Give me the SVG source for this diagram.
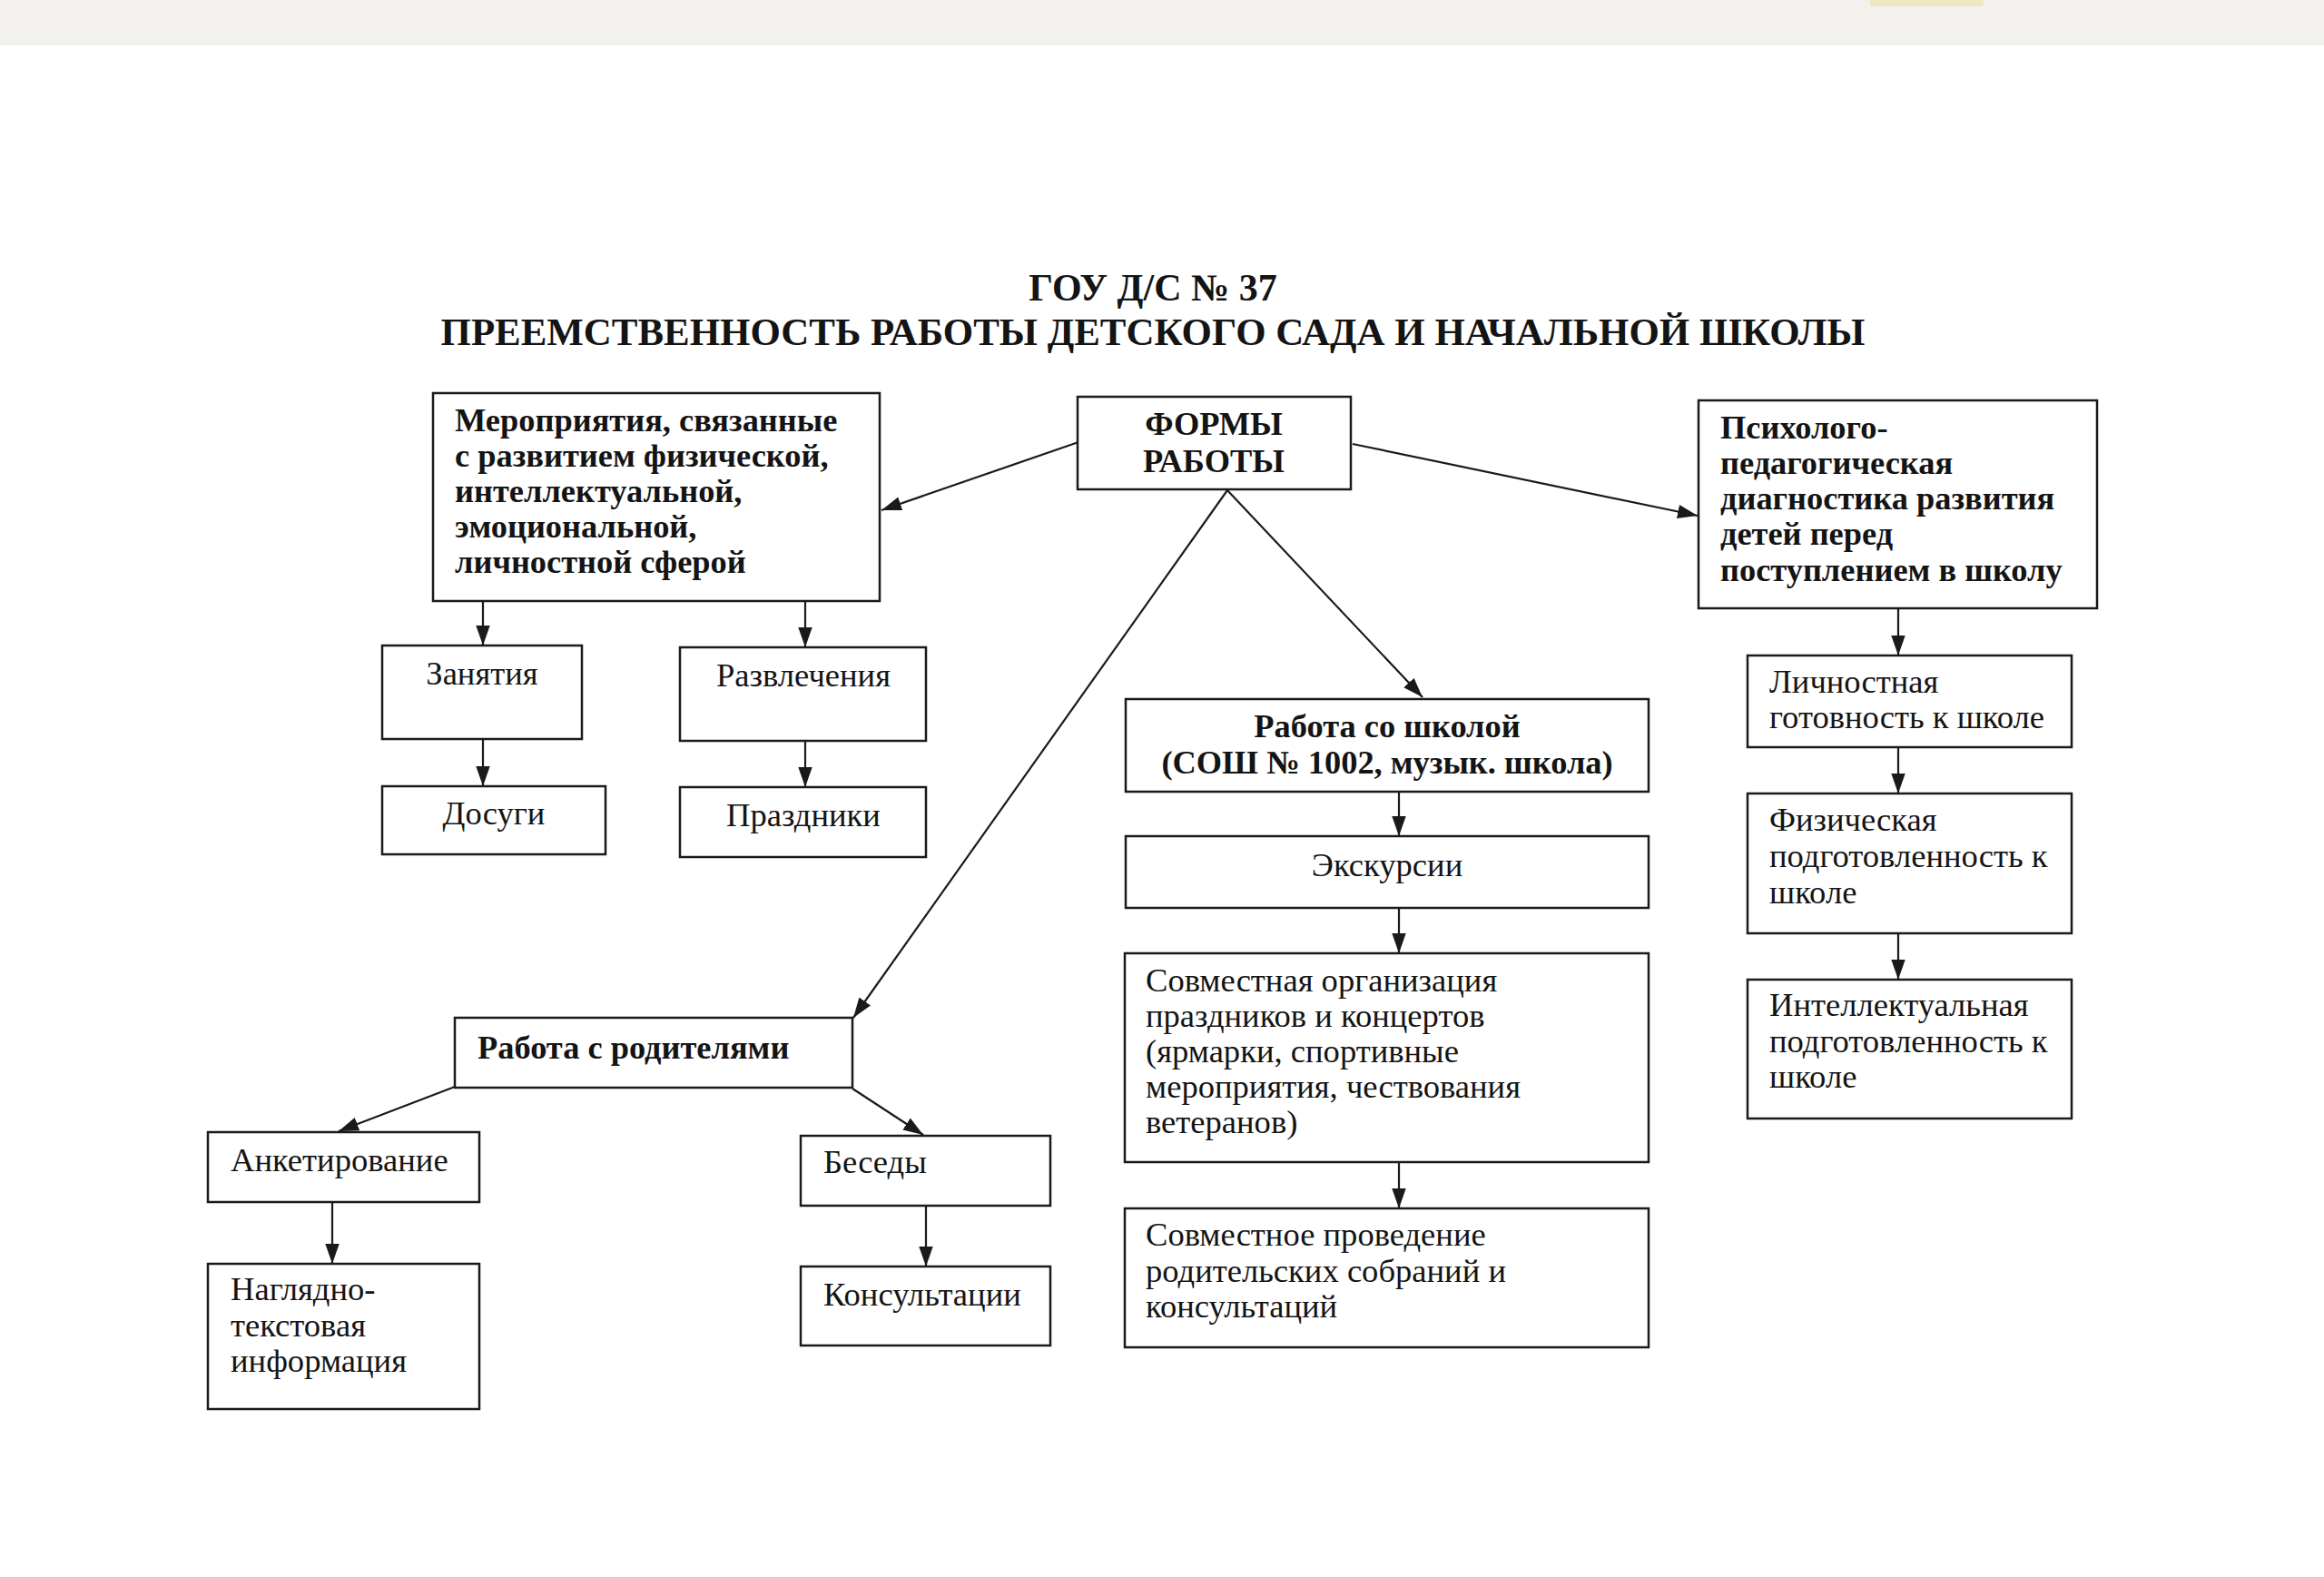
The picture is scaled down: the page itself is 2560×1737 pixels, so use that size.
<svg xmlns="http://www.w3.org/2000/svg" width="2560" height="1737" viewBox="0 0 2560 1737">
<style>
.box{fill:#fff;stroke:#1a1a1a;stroke-width:2.5}
.t{font-family:"Liberation Serif","Times New Roman",serif;font-size:36.6px;fill:#141414}
.b{font-weight:bold;font-size:36.4px}
.c{text-anchor:middle}
.ttl{font-family:"Liberation Serif","Times New Roman",serif;font-weight:bold;font-size:42px;fill:#141414;text-anchor:middle}
.ln{stroke:#1a1a1a;stroke-width:2.2;fill:none;marker-end:url(#ah)}
</style>
<defs>
<marker id="ah" viewBox="0 0 20 14" markerUnits="userSpaceOnUse" markerWidth="22" markerHeight="16" refX="20" refY="7" orient="auto">
<path d="M0,0 L20,7 L0,14 z" fill="#1a1a1a"/>
</marker>
</defs>
<rect x="0" y="0" width="2560" height="1737" fill="#fff"/>
<rect x="0" y="0" width="2560" height="50" fill="#f2f1ed"/>
<rect x="2060" y="0" width="125" height="7" fill="#efe6c4"/>
<g id="title">
<text class="ttl" x="1270" y="331">ГОУ Д/С № 37</text>
<text class="ttl" x="1270" y="380" textLength="1569" lengthAdjust="spacingAndGlyphs">ПРЕЕМСТВЕННОСТЬ РАБОТЫ ДЕТСКОГО САДА И НАЧАЛЬНОЙ ШКОЛЫ</text>
</g>
<g id="connectors">
<line class="ln" x1="1188" y1="487" x2="971" y2="562"/>
<line class="ln" x1="1490" y1="489" x2="1870" y2="568"/>
<line class="ln" x1="1352" y1="540" x2="940" y2="1121"/>
<line class="ln" x1="1352" y1="540" x2="1567" y2="768"/>
<line class="ln" x1="532" y1="662" x2="532" y2="711"/>
<line class="ln" x1="887" y1="662" x2="887" y2="713"/>
<line class="ln" x1="532" y1="814" x2="532" y2="866"/>
<line class="ln" x1="887" y1="816" x2="887" y2="867"/>
<line class="ln" x1="501" y1="1197" x2="373" y2="1246"/>
<line class="ln" x1="939" y1="1199" x2="1017" y2="1250"/>
<line class="ln" x1="366" y1="1324" x2="366" y2="1392"/>
<line class="ln" x1="1020" y1="1328" x2="1020" y2="1395"/>
<line class="ln" x1="1541" y1="872" x2="1541" y2="921"/>
<line class="ln" x1="1541" y1="1000" x2="1541" y2="1050"/>
<line class="ln" x1="1541" y1="1280" x2="1541" y2="1331"/>
<line class="ln" x1="2091" y1="670" x2="2091" y2="722"/>
<line class="ln" x1="2091" y1="823" x2="2091" y2="874"/>
<line class="ln" x1="2091" y1="1028" x2="2091" y2="1079"/>
</g>
<g id="n-meropr">
<rect class="box" x="477" y="433" width="492" height="229"/>
<text class="t b" x="501" y="475">Мероприятия, связанные</text>
<text class="t b" x="501" y="514">с развитием физической,</text>
<text class="t b" x="501" y="553">интеллектуальной,</text>
<text class="t b" x="501" y="592">эмоциональной,</text>
<text class="t b" x="501" y="631">личностной сферой</text>
</g>
<g id="n-formy">
<rect class="box" x="1187" y="437" width="301" height="102"/>
<text class="t b c" x="1337" y="479">ФОРМЫ</text>
<text class="t b c" x="1337" y="520">РАБОТЫ</text>
</g>
<g id="n-psych">
<rect class="box" x="1871" y="441" width="439" height="229"/>
<text class="t b" x="1895" y="483">Психолого-</text>
<text class="t b" x="1895" y="522">педагогическая</text>
<text class="t b" x="1895" y="561">диагностика развития</text>
<text class="t b" x="1895" y="600">детей перед</text>
<text class="t b" x="1895" y="640">поступлением в школу</text>
</g>
<g id="n-zanyatiya">
<rect class="box" x="421" y="711" width="220" height="103"/>
<text class="t c" x="531" y="754">Занятия</text>
</g>
<g id="n-dosugi">
<rect class="box" x="421" y="866" width="246" height="75"/>
<text class="t c" x="544" y="908">Досуги</text>
</g>
<g id="n-razvlech">
<rect class="box" x="749" y="713" width="271" height="103"/>
<text class="t c" x="885" y="756">Развлечения</text>
</g>
<g id="n-prazdniki">
<rect class="box" x="749" y="867" width="271" height="77"/>
<text class="t c" x="885" y="910">Праздники</text>
</g>
<g id="n-shkola">
<rect class="box" x="1240" y="770" width="576" height="102"/>
<text class="t b c" x="1528" y="812">Работа со школой</text>
<text class="t b c" x="1528" y="852">(СОШ № 1002, музык. школа)</text>
</g>
<g id="n-ekskursii">
<rect class="box" x="1240" y="921" width="576" height="79"/>
<text class="t c" x="1528" y="965">Экскурсии</text>
</g>
<g id="n-sovm-org">
<rect class="box" x="1239" y="1050" width="577" height="230"/>
<text class="t" x="1262" y="1092">Совместная организация</text>
<text class="t" x="1262" y="1131">праздников и концертов</text>
<text class="t" x="1262" y="1170">(ярмарки, спортивные</text>
<text class="t" x="1262" y="1209">мероприятия, чествования</text>
<text class="t" x="1262" y="1248">ветеранов)</text>
</g>
<g id="n-sovm-prov">
<rect class="box" x="1239" y="1331" width="577" height="153"/>
<text class="t" x="1262" y="1372">Совместное проведение</text>
<text class="t" x="1262" y="1412">родительских собраний и</text>
<text class="t" x="1262" y="1451">консультаций</text>
</g>
<g id="n-roditeli">
<rect class="box" x="501" y="1121" width="438" height="77"/>
<text class="t b" x="526" y="1166">Работа с родителями</text>
</g>
<g id="n-anket">
<rect class="box" x="229" y="1247" width="299" height="77"/>
<text class="t" x="254" y="1290">Анкетирование</text>
</g>
<g id="n-naglyadno">
<rect class="box" x="229" y="1392" width="299" height="160"/>
<text class="t" x="254" y="1432">Наглядно-</text>
<text class="t" x="254" y="1472">текстовая</text>
<text class="t" x="254" y="1511">информация</text>
</g>
<g id="n-besedy">
<rect class="box" x="882" y="1251" width="275" height="77"/>
<text class="t" x="907" y="1292">Беседы</text>
</g>
<g id="n-konsult">
<rect class="box" x="882" y="1395" width="275" height="87"/>
<text class="t" x="907" y="1438">Консультации</text>
</g>
<g id="n-lichn">
<rect class="box" x="1925" y="722" width="357" height="101"/>
<text class="t" x="1949" y="763">Личностная</text>
<text class="t" x="1949" y="802">готовность к школе</text>
</g>
<g id="n-fiz">
<rect class="box" x="1925" y="874" width="357" height="154"/>
<text class="t" x="1949" y="915">Физическая</text>
<text class="t" x="1949" y="955">подготовленность к</text>
<text class="t" x="1949" y="995">школе</text>
</g>
<g id="n-intel">
<rect class="box" x="1925" y="1079" width="357" height="153"/>
<text class="t" x="1949" y="1119">Интеллектуальная</text>
<text class="t" x="1949" y="1159">подготовленность к</text>
<text class="t" x="1949" y="1198">школе</text>
</g>
</svg>
